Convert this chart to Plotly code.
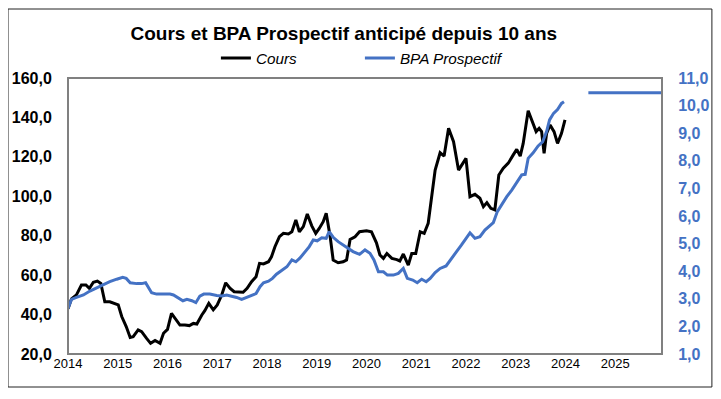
import plotly.graph_objects as go

# ---- Data ----
cours_x = [2014.00, 2014.07, 2014.17, 2014.27, 2014.36, 2014.43, 2014.51, 2014.59, 2014.66, 2014.74,
           2014.84, 2014.94, 2015.01, 2015.08, 2015.17, 2015.25, 2015.31, 2015.41, 2015.48, 2015.58,
           2015.66, 2015.75, 2015.80, 2015.85, 2015.92, 2016.00, 2016.08, 2016.15, 2016.25, 2016.35,
           2016.44, 2016.52, 2016.59, 2016.69, 2016.75, 2016.83, 2016.92, 2017.00, 2017.09, 2017.17,
           2017.26, 2017.34, 2017.44, 2017.52, 2017.60, 2017.69, 2017.78, 2017.85, 2017.93, 2018.03,
           2018.09, 2018.16, 2018.25, 2018.33, 2018.43, 2018.50, 2018.58, 2018.65, 2018.73, 2018.81,
           2018.90, 2018.98, 2019.05, 2019.13, 2019.19, 2019.27, 2019.33, 2019.43, 2019.53, 2019.60,
           2019.67, 2019.77, 2019.86, 2020.00, 2020.10, 2020.20, 2020.27, 2020.34, 2020.41, 2020.51,
           2020.61, 2020.67, 2020.74, 2020.84, 2020.91, 2020.99, 2021.08, 2021.16, 2021.24, 2021.31,
           2021.38, 2021.48, 2021.56, 2021.65, 2021.75, 2021.85, 2021.91, 2022.00, 2022.08, 2022.18,
           2022.28, 2022.35, 2022.42, 2022.50, 2022.58, 2022.66, 2022.75, 2022.85, 2022.95, 2023.02,
           2023.09, 2023.15, 2023.25, 2023.32, 2023.41, 2023.47, 2023.52, 2023.57, 2023.62, 2023.69,
           2023.77, 2023.84, 2023.92, 2023.99]
cours = [43.0, 48.0, 50.0, 55.0, 55.0, 53.3, 56.4, 57.0, 55.8, 46.5,
         46.5, 45.7, 44.9, 39.0, 33.9, 28.4, 28.8, 32.2, 31.3, 27.9,
         25.4, 26.9, 26.2, 25.4, 30.5, 32.5, 40.6, 38.1, 34.7, 34.7,
         34.4, 35.5, 35.2, 39.8, 42.0, 45.7, 42.4, 44.9, 49.9, 56.1,
         53.3, 51.6, 51.6, 51.3, 53.3, 56.7, 59.2, 66.0, 65.7, 66.8,
         69.3, 74.4, 79.5, 81.2, 80.9, 82.0, 88.0, 82.0, 84.6, 91.0,
         85.0, 81.2, 83.7, 87.1, 91.4, 79.5, 67.7, 66.3, 66.8, 67.7,
         78.1, 79.5, 82.0, 82.5, 82.0, 76.4, 70.2, 68.5, 71.0, 68.5,
         67.9, 67.2, 70.7, 65.1, 71.0, 71.0, 82.0, 81.2, 86.3, 100.6,
         113.3, 122.1, 120.4, 134.5, 127.7, 113.3, 115.4, 119.2, 99.8, 101.0,
         99.0, 94.7, 96.8, 93.9, 93.1, 110.8, 114.2, 116.8, 121.0, 123.8,
         120.4, 126.8, 143.4, 138.6, 132.8, 134.5, 132.8, 121.8, 131.9, 136.2,
         132.8, 126.8, 131.9, 138.7]

bpa_x = [2014.00, 2014.07, 2014.17, 2014.31, 2014.44, 2014.58, 2014.71, 2014.84, 2014.98, 2015.10,
         2015.17, 2015.25, 2015.38, 2015.48, 2015.56, 2015.68, 2015.78, 2015.92, 2016.05, 2016.12,
         2016.22, 2016.31, 2016.39, 2016.49, 2016.57, 2016.65, 2016.73, 2016.85, 2016.99, 2017.09,
         2017.19, 2017.29, 2017.39, 2017.49, 2017.59, 2017.69, 2017.78, 2017.86, 2017.93, 2018.03,
         2018.11, 2018.19, 2018.29, 2018.40, 2018.50, 2018.58, 2018.66, 2018.76, 2018.85, 2018.93,
         2019.01, 2019.10, 2019.19, 2019.25, 2019.33, 2019.43, 2019.53, 2019.63, 2019.73, 2019.86,
         2019.97, 2020.07, 2020.15, 2020.24, 2020.34, 2020.42, 2020.54, 2020.64, 2020.74, 2020.82,
         2020.93, 2021.02, 2021.11, 2021.20, 2021.28, 2021.38, 2021.48, 2021.60, 2021.69, 2021.81,
         2021.91, 2022.01, 2022.08, 2022.18, 2022.28, 2022.38, 2022.47, 2022.55, 2022.63, 2022.72,
         2022.82, 2022.92, 2023.02, 2023.12, 2023.19, 2023.25, 2023.35, 2023.45, 2023.54, 2023.62,
         2023.68, 2023.76, 2023.84, 2023.92, 2023.97]
bpa = [2.65, 2.98, 3.05, 3.14, 3.28, 3.40, 3.52, 3.62, 3.71, 3.78,
       3.74, 3.58, 3.55, 3.55, 3.58, 3.22, 3.17, 3.17, 3.17, 3.14,
       3.02, 2.93, 2.98, 2.93, 2.86, 3.10, 3.17, 3.17, 3.12, 3.10,
       3.14, 3.10, 3.05, 2.98, 3.05, 3.14, 3.19, 3.44, 3.58, 3.64,
       3.74, 3.89, 4.02, 4.16, 4.41, 4.34, 4.47, 4.67, 4.89, 5.13,
       5.10, 5.21, 5.19, 5.43, 5.23, 5.07, 4.95, 4.83, 4.71, 4.61,
       4.77, 4.65, 4.41, 3.98, 3.98, 3.86, 3.86, 3.92, 4.10, 3.74,
       3.68, 3.58, 3.71, 3.62, 3.74, 3.95, 4.10, 4.19, 4.43, 4.71,
       4.95, 5.21, 5.39, 5.19, 5.25, 5.49, 5.65, 5.76, 6.16, 6.43,
       6.70, 6.94, 7.24, 7.49, 7.51, 8.09, 8.29, 8.54, 8.69, 9.06,
       9.48, 9.72, 9.86, 10.08, 10.14]

# flat forward BPA segment
bpa_fwd_x = [2024.46, 2025.94]
bpa_fwd = [10.47, 10.47]

years = list(range(2014, 2026))
year_labels = [str(y) for y in years]
left_ticks = [20, 40, 60, 80, 100, 120, 140, 160]
right_ticks = [1, 2, 3, 4, 5, 6, 7, 8, 9, 10, 11]

BLUE = "#4472C4"

fig = go.Figure()
fig.add_trace(go.Scatter(x=cours_x, y=cours, name="Cours", mode="lines",
                         line=dict(color="black", width=3)))
fig.add_trace(go.Scatter(x=bpa_x, y=bpa, name="BPA Prospectif", mode="lines",
                         line=dict(color=BLUE, width=3), yaxis="y2"))
fig.add_trace(go.Scatter(x=bpa_fwd_x, y=bpa_fwd, name="BPA Prospectif", mode="lines",
                         line=dict(color=BLUE, width=3), yaxis="y2", showlegend=False))

fig.update_layout(
    width=713, height=391,
    margin=dict(l=60, r=59, t=70, b=45, autoexpand=False),
    paper_bgcolor="white", plot_bgcolor="white",
    separators=", ",
    font=dict(family="Liberation Sans, Arial, sans-serif", color="black"),
    title=dict(text="<b>Cours et BPA Prospectif anticipé depuis 10 ans</b>",
               x=0.471, xanchor="center", y=0.936, yanchor="middle",
               font=dict(size=19, color="black")),
    showlegend=True,
    legend=dict(orientation="h", x=0.249, xanchor="left", y=1.072, yanchor="middle",
                font=dict(size=15.3, style="italic"), entrywidth=99, entrywidthmode="pixels",
                bgcolor="rgba(0,0,0,0)"),
    xaxis=dict(range=[2014, 2025.94], tickvals=years, ticktext=year_labels,
               showgrid=False, zeroline=False, showline=False,
               tickfont=dict(size=13, color="black"), ticks="", fixedrange=True),
    yaxis=dict(range=[20, 160], tickvals=left_ticks, tickformat=".1f",
               showgrid=False, zeroline=False, showline=False,
               ticks="outside", ticklen=12, tickcolor="rgba(0,0,0,0)",
               tickfont=dict(size=16, color="black", weight="bold")),
    yaxis2=dict(range=[1, 11], tickvals=right_ticks, tickformat=".1f",
                overlaying="y", side="right",
                showgrid=False, zeroline=False, showline=False,
                ticks="outside", ticklen=12, tickcolor="rgba(0,0,0,0)",
                tickfont=dict(size=16, color=BLUE, weight="bold")),
    shapes=[
        dict(type="rect", xref="paper", yref="paper", x0=0, x1=1, y0=0, y1=1,
             line=dict(color="#808080", width=2), layer="above"),
        dict(type="rect", xref="paper", yref="paper", x0=-0.101, x1=1.084, y0=-0.1196, y1=1.25,
             line=dict(color="#222222", width=1)),
    ],
)

fig.write_html("out.html")
